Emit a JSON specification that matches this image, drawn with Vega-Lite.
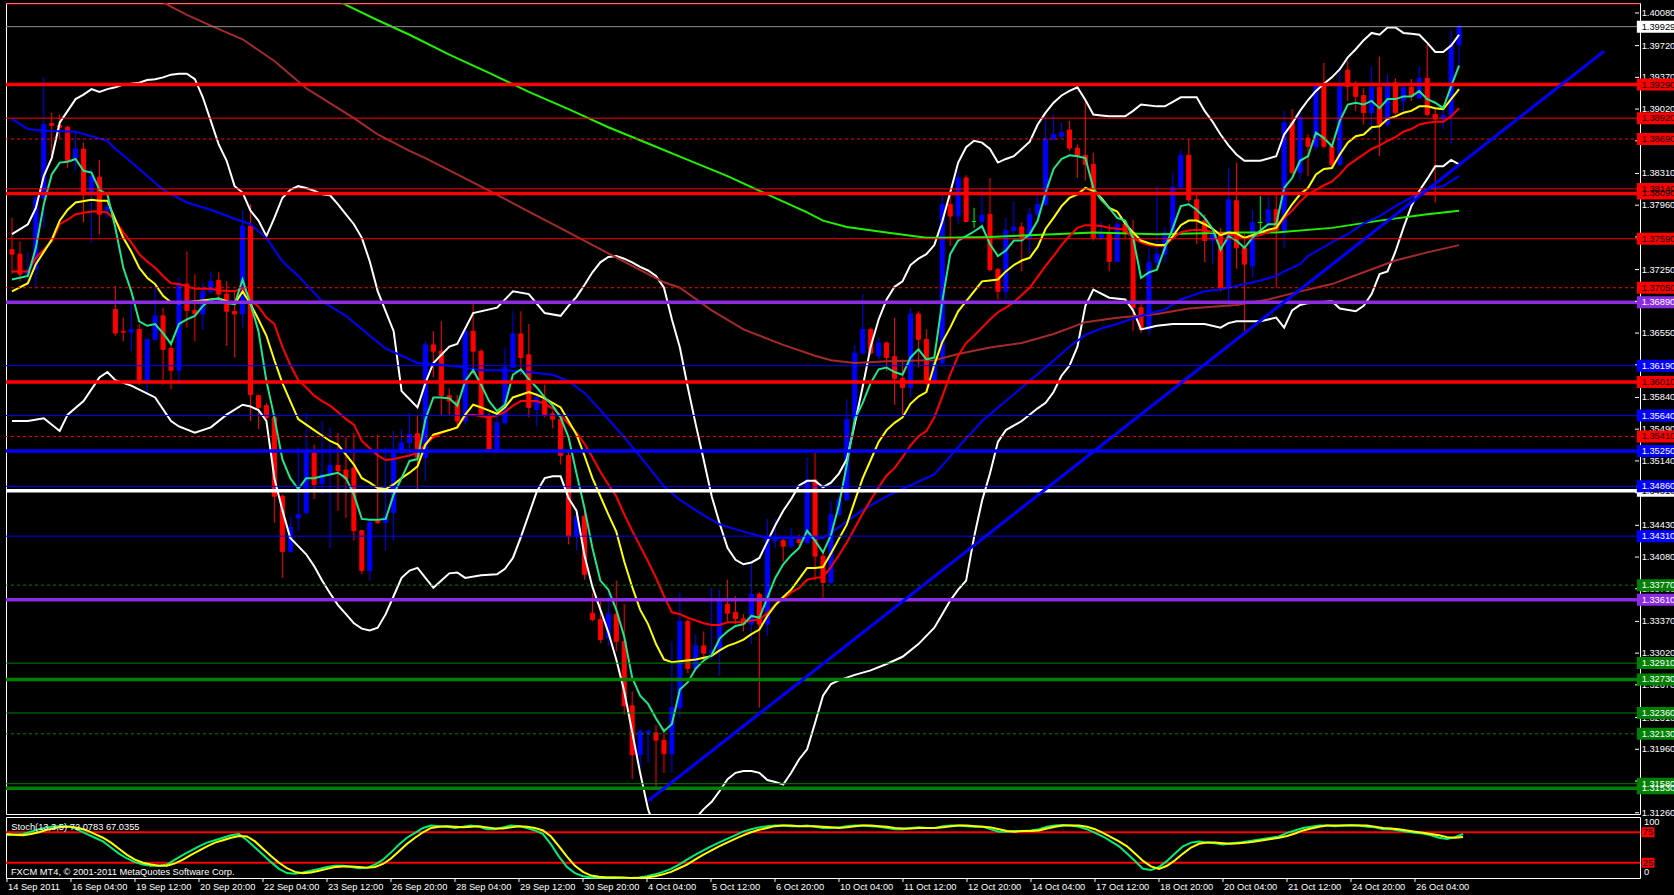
{
"$schema": "https://vega.github.io/schema/vega-lite/v6.json",
"background": "black",
"padding": {"left": 2, "top": 2, "right": 0, "bottom": 16},
"bounds": "flush",
"spacing": 3,
"config": {"view": {"stroke": "#ffffff", "strokeWidth": 1}},
"datasets": {
"c": [
{"i":0,"o":1.3747,"h":1.3782,"l":1.3720,"c":1.3742},{"i":1,"o":1.3742,"h":1.3756,"l":1.3712,"c":1.3720},{"i":2,"o":1.3720,"h":1.3744,"l":1.3705,"c":1.3725},{"i":3,"o":1.3725,"h":1.3806,"l":1.3705,"c":1.3804},{"i":4,"o":1.3804,"h":1.3937,"l":1.3771,"c":1.3885},{"i":5,"o":1.3886,"h":1.3898,"l":1.3845,"c":1.3884},{"i":6,"o":1.3884,"h":1.3896,"l":1.3869,"c":1.3882},{"i":7,"o":1.3882,"h":1.3884,"l":1.3837,"c":1.3845},{"i":8,"o":1.3848,"h":1.3876,"l":1.3834,"c":1.3858},{"i":9,"o":1.3858,"h":1.3865,"l":1.3777,"c":1.3810},
{"i":10,"o":1.3810,"h":1.3836,"l":1.3755,"c":1.3828},{"i":11,"o":1.3827,"h":1.3846,"l":1.3764,"c":1.3786},{"i":12,"o":1.3790,"h":1.3801,"l":1.3782,"c":1.3794},{"i":13,"o":1.3681,"h":1.3707,"l":1.3652,"c":1.3655},{"i":14,"o":1.3657,"h":1.3672,"l":1.3646,"c":1.3656},{"i":15,"o":1.3656,"h":1.3687,"l":1.3635,"c":1.3659},{"i":16,"o":1.3659,"h":1.3665,"l":1.3598,"c":1.3600},{"i":17,"o":1.3602,"h":1.3648,"l":1.3589,"c":1.3648},{"i":18,"o":1.3648,"h":1.3710,"l":1.3646,"c":1.3674},{"i":19,"o":1.3674,"h":1.3683,"l":1.3598,"c":1.3637},
{"i":20,"o":1.3638,"h":1.3646,"l":1.3593,"c":1.3614},{"i":21,"o":1.3614,"h":1.3716,"l":1.3598,"c":1.3709},{"i":22,"o":1.3709,"h":1.3745,"l":1.3661,"c":1.3680},{"i":23,"o":1.3680,"h":1.3720,"l":1.3646,"c":1.3676},{"i":24,"o":1.3676,"h":1.3710,"l":1.3659,"c":1.3701},{"i":25,"o":1.3701,"h":1.3723,"l":1.3698,"c":1.3712},{"i":26,"o":1.3713,"h":1.3722,"l":1.3687,"c":1.3698},{"i":27,"o":1.3698,"h":1.3712,"l":1.3641,"c":1.3679},{"i":28,"o":1.3679,"h":1.3701,"l":1.3628,"c":1.3676},{"i":29,"o":1.3676,"h":1.3790,"l":1.3661,"c":1.3773},
{"i":30,"o":1.3773,"h":1.3797,"l":1.3558,"c":1.3587},{"i":31,"o":1.3586,"h":1.3587,"l":1.3549,"c":1.3573},{"i":32,"o":1.3575,"h":1.3578,"l":1.3560,"c":1.3562},{"i":33,"o":1.3562,"h":1.3562,"l":1.3446,"c":1.3475},{"i":34,"o":1.3475,"h":1.3477,"l":1.3385,"c":1.3414},{"i":35,"o":1.3414,"h":1.3453,"l":1.3413,"c":1.3441},{"i":36,"o":1.3451,"h":1.3529,"l":1.3437,"c":1.3455},{"i":37,"o":1.3457,"h":1.3567,"l":1.3455,"c":1.3523},{"i":38,"o":1.3523,"h":1.3532,"l":1.3472,"c":1.3488},{"i":39,"o":1.3489,"h":1.3558,"l":1.3477,"c":1.3499},
{"i":40,"o":1.3499,"h":1.3551,"l":1.3418,"c":1.3509},{"i":41,"o":1.3509,"h":1.3545,"l":1.3459,"c":1.3503},{"i":42,"o":1.3504,"h":1.3540,"l":1.3451,"c":1.3494},{"i":43,"o":1.3506,"h":1.3545,"l":1.3426,"c":1.3437},{"i":44,"o":1.3437,"h":1.3438,"l":1.3389,"c":1.3393},{"i":45,"o":1.3393,"h":1.3450,"l":1.3382,"c":1.3446},{"i":46,"o":1.3448,"h":1.3543,"l":1.3444,"c":1.3446},{"i":47,"o":1.3446,"h":1.3529,"l":1.3415,"c":1.3453},{"i":48,"o":1.3457,"h":1.3547,"l":1.3426,"c":1.3523},{"i":49,"o":1.3523,"h":1.3549,"l":1.3522,"c":1.3534},
{"i":50,"o":1.3534,"h":1.3567,"l":1.3518,"c":1.3543},{"i":51,"o":1.3544,"h":1.3565,"l":1.3481,"c":1.3518},{"i":52,"o":1.3518,"h":1.3646,"l":1.3492,"c":1.3642},{"i":53,"o":1.3642,"h":1.3657,"l":1.3606,"c":1.3635},{"i":54,"o":1.3635,"h":1.3668,"l":1.3565,"c":1.3586},{"i":55,"o":1.3586,"h":1.3594,"l":1.3565,"c":1.3580},{"i":56,"o":1.3580,"h":1.3587,"l":1.3550,"c":1.3558},{"i":57,"o":1.3558,"h":1.3661,"l":1.3554,"c":1.3657},{"i":58,"o":1.3657,"h":1.3687,"l":1.3609,"c":1.3635},{"i":59,"o":1.3635,"h":1.3637,"l":1.3562,"c":1.3565},
{"i":60,"o":1.3563,"h":1.3567,"l":1.3525,"c":1.3527},{"i":61,"o":1.3527,"h":1.3569,"l":1.3523,"c":1.3556},{"i":62,"o":1.3556,"h":1.3639,"l":1.3554,"c":1.3617},{"i":63,"o":1.3617,"h":1.3679,"l":1.3617,"c":1.3654},{"i":64,"o":1.3654,"h":1.3679,"l":1.3609,"c":1.3628},{"i":65,"o":1.3631,"h":1.3665,"l":1.3562,"c":1.3573},{"i":66,"o":1.3571,"h":1.3591,"l":1.3552,"c":1.3584},{"i":67,"o":1.3582,"h":1.3598,"l":1.3562,"c":1.3565},{"i":68,"o":1.3566,"h":1.3569,"l":1.3550,"c":1.3560},{"i":69,"o":1.3560,"h":1.3562,"l":1.3510,"c":1.3520},
{"i":70,"o":1.3520,"h":1.3525,"l":1.3422,"c":1.3431},{"i":71,"o":1.3431,"h":1.3462,"l":1.3415,"c":1.3453},{"i":72,"o":1.3453,"h":1.3459,"l":1.3383,"c":1.3389},{"i":73,"o":1.3346,"h":1.3368,"l":1.3337,"c":1.3339},{"i":74,"o":1.3339,"h":1.3360,"l":1.3313,"c":1.3317},{"i":75,"o":1.3319,"h":1.3367,"l":1.3310,"c":1.3345},{"i":76,"o":1.3345,"h":1.3382,"l":1.3304,"c":1.3315},{"i":77,"o":1.3315,"h":1.3356,"l":1.3234,"c":1.3244},{"i":78,"o":1.3244,"h":1.3260,"l":1.3163,"c":1.3190},{"i":79,"o":1.3190,"h":1.3218,"l":1.3175,"c":1.3216},
{"i":80,"o":1.3214,"h":1.3217,"l":1.3181,"c":1.3216},{"i":81,"o":1.3214,"h":1.3223,"l":1.3151,"c":1.3206},{"i":82,"o":1.3206,"h":1.3220,"l":1.3170,"c":1.3191},{"i":83,"o":1.3191,"h":1.3315,"l":1.3170,"c":1.3242},{"i":84,"o":1.3242,"h":1.3369,"l":1.3231,"c":1.3337},{"i":85,"o":1.3337,"h":1.3339,"l":1.3280,"c":1.3285},{"i":86,"o":1.3285,"h":1.3323,"l":1.3282,"c":1.3310},{"i":87,"o":1.3310,"h":1.3326,"l":1.3293,"c":1.3302},{"i":88,"o":1.3302,"h":1.3374,"l":1.3295,"c":1.3305},{"i":89,"o":1.3305,"h":1.3372,"l":1.3277,"c":1.3360},
{"i":90,"o":1.3356,"h":1.3383,"l":1.3337,"c":1.3346},{"i":91,"o":1.3347,"h":1.3365,"l":1.3334,"c":1.3340},{"i":92,"o":1.3340,"h":1.3345,"l":1.3326,"c":1.3334},{"i":93,"o":1.3334,"h":1.3400,"l":1.3312,"c":1.3367},{"i":94,"o":1.3367,"h":1.3369,"l":1.3242,"c":1.3334},{"i":95,"o":1.3334,"h":1.3450,"l":1.3321,"c":1.3429},{"i":96,"o":1.3426,"h":1.3450,"l":1.3418,"c":1.3429},{"i":97,"o":1.3426,"h":1.3429,"l":1.3403,"c":1.3420},{"i":98,"o":1.3420,"h":1.3440,"l":1.3418,"c":1.3427},{"i":99,"o":1.3427,"h":1.3433,"l":1.3418,"c":1.3424},
{"i":100,"o":1.3424,"h":1.3518,"l":1.3422,"c":1.3493},{"i":101,"o":1.3493,"h":1.3523,"l":1.3382,"c":1.3409},{"i":102,"o":1.3409,"h":1.3415,"l":1.3363,"c":1.3380},{"i":103,"o":1.3380,"h":1.3470,"l":1.3378,"c":1.3455},{"i":104,"o":1.3455,"h":1.3477,"l":1.3453,"c":1.3471},{"i":105,"o":1.3471,"h":1.3582,"l":1.3470,"c":1.3560},{"i":106,"o":1.3560,"h":1.3642,"l":1.3558,"c":1.3633},{"i":107,"o":1.3633,"h":1.3698,"l":1.3631,"c":1.3659},{"i":108,"o":1.3659,"h":1.3661,"l":1.3631,"c":1.3633},{"i":109,"o":1.3630,"h":1.3650,"l":1.3626,"c":1.3644},
{"i":110,"o":1.3644,"h":1.3646,"l":1.3613,"c":1.3628},{"i":111,"o":1.3629,"h":1.3672,"l":1.3576,"c":1.3605},{"i":112,"o":1.3605,"h":1.3626,"l":1.3565,"c":1.3595},{"i":113,"o":1.3595,"h":1.3683,"l":1.3584,"c":1.3676},{"i":114,"o":1.3676,"h":1.3679,"l":1.3617,"c":1.3648},{"i":115,"o":1.3648,"h":1.3659,"l":1.3598,"c":1.3600},{"i":116,"o":1.3600,"h":1.3628,"l":1.3598,"c":1.3622},{"i":117,"o":1.3622,"h":1.3808,"l":1.3620,"c":1.3797},{"i":118,"o":1.3797,"h":1.3808,"l":1.3751,"c":1.3784},{"i":119,"o":1.3784,"h":1.3834,"l":1.3775,"c":1.3826},
{"i":120,"o":1.3826,"h":1.3829,"l":1.3777,"c":1.3778},{"i":121,"o":1.3778,"h":1.3793,"l":1.3771,"c":1.3778},{"i":122,"o":1.3778,"h":1.3815,"l":1.3768,"c":1.3785},{"i":123,"o":1.3786,"h":1.3826,"l":1.3723,"c":1.3725},{"i":124,"o":1.3725,"h":1.3727,"l":1.3692,"c":1.3701},{"i":125,"o":1.3701,"h":1.3782,"l":1.3692,"c":1.3768},{"i":126,"o":1.3768,"h":1.3800,"l":1.3760,"c":1.3772},{"i":127,"o":1.3772,"h":1.3777,"l":1.3723,"c":1.3760},{"i":128,"o":1.3760,"h":1.3793,"l":1.3742,"c":1.3786},{"i":129,"o":1.3786,"h":1.3808,"l":1.3779,"c":1.3797},
{"i":130,"o":1.3797,"h":1.3893,"l":1.3795,"c":1.3869},{"i":131,"o":1.3869,"h":1.3896,"l":1.3867,"c":1.3874},{"i":132,"o":1.3872,"h":1.3887,"l":1.3870,"c":1.3876},{"i":133,"o":1.3879,"h":1.3889,"l":1.3856,"c":1.3859},{"i":134,"o":1.3859,"h":1.3863,"l":1.3826,"c":1.3851},{"i":135,"o":1.3851,"h":1.3913,"l":1.3823,"c":1.3841},{"i":136,"o":1.3841,"h":1.3854,"l":1.3757,"c":1.3760},{"i":137,"o":1.3760,"h":1.3778,"l":1.3757,"c":1.3766},{"i":138,"o":1.3766,"h":1.3775,"l":1.3723,"c":1.3734},{"i":139,"o":1.3734,"h":1.3778,"l":1.3733,"c":1.3775},
{"i":140,"o":1.3775,"h":1.3778,"l":1.3760,"c":1.3766},{"i":141,"o":1.3766,"h":1.3780,"l":1.3657,"c":1.3683},{"i":142,"o":1.3683,"h":1.3687,"l":1.3655,"c":1.3659},{"i":143,"o":1.3659,"h":1.3749,"l":1.3652,"c":1.3733},{"i":144,"o":1.3733,"h":1.3817,"l":1.3727,"c":1.3742},{"i":145,"o":1.3742,"h":1.3771,"l":1.3733,"c":1.3766},{"i":146,"o":1.3766,"h":1.3832,"l":1.3764,"c":1.3816},{"i":147,"o":1.3816,"h":1.3857,"l":1.3815,"c":1.3851},{"i":148,"o":1.3851,"h":1.3869,"l":1.3799,"c":1.3802},{"i":149,"o":1.3802,"h":1.3810,"l":1.3753,"c":1.3779},
{"i":150,"o":1.3779,"h":1.3786,"l":1.3733,"c":1.3757},{"i":151,"o":1.3757,"h":1.3771,"l":1.3731,"c":1.3766},{"i":152,"o":1.3766,"h":1.3771,"l":1.3701,"c":1.3705},{"i":153,"o":1.3705,"h":1.3837,"l":1.3683,"c":1.3802},{"i":154,"o":1.3801,"h":1.3843,"l":1.3726,"c":1.3749},{"i":155,"o":1.3749,"h":1.3764,"l":1.3657,"c":1.3731},{"i":156,"o":1.3729,"h":1.3791,"l":1.3716,"c":1.3777},{"i":157,"o":1.3777,"h":1.3806,"l":1.3764,"c":1.3777},{"i":158,"o":1.3777,"h":1.3806,"l":1.3768,"c":1.3791},{"i":159,"o":1.3791,"h":1.3808,"l":1.3705,"c":1.3768},
{"i":160,"o":1.3768,"h":1.3900,"l":1.3749,"c":1.3887},{"i":161,"o":1.3887,"h":1.3902,"l":1.3830,"c":1.3832},{"i":162,"o":1.3832,"h":1.3902,"l":1.3823,"c":1.3893},{"i":163,"o":1.3870,"h":1.3874,"l":1.3828,"c":1.3861},{"i":164,"o":1.3861,"h":1.3929,"l":1.3856,"c":1.3927},{"i":165,"o":1.3927,"h":1.3953,"l":1.3859,"c":1.3861},{"i":166,"o":1.3861,"h":1.3863,"l":1.3837,"c":1.3841},{"i":167,"o":1.3841,"h":1.3949,"l":1.3839,"c":1.3929},{"i":168,"o":1.3945,"h":1.3955,"l":1.3911,"c":1.3927},{"i":169,"o":1.3927,"h":1.3933,"l":1.3900,"c":1.3916},
{"i":170,"o":1.3917,"h":1.3925,"l":1.3885,"c":1.3898},{"i":171,"o":1.3898,"h":1.3949,"l":1.3876,"c":1.3926},{"i":172,"o":1.3926,"h":1.3960,"l":1.3850,"c":1.3885},{"i":173,"o":1.3885,"h":1.3940,"l":1.3883,"c":1.3931},{"i":174,"o":1.3931,"h":1.3936,"l":1.3896,"c":1.3898},{"i":175,"o":1.3911,"h":1.3927,"l":1.3900,"c":1.3926},{"i":176,"o":1.3926,"h":1.3935,"l":1.3911,"c":1.3916},{"i":177,"o":1.3914,"h":1.3949,"l":1.3913,"c":1.3936},{"i":178,"o":1.3936,"h":1.3973,"l":1.3894,"c":1.3896},{"i":179,"o":1.3896,"h":1.3903,"l":1.3799,"c":1.3891},
{"i":180,"o":1.3891,"h":1.3905,"l":1.3880,"c":1.3895},{"i":181,"o":1.3895,"h":1.3989,"l":1.3863,"c":1.3973},{"i":182,"o":1.3973,"h":1.3995,"l":1.3948,"c":1.3993}
],
"bbu": [{"i":0,"v":1.3764},{"i":2,"v":1.3775},{"i":3,"v":1.3793},{"i":4,"v":1.3828},{"i":5,"v":1.3848},{"i":6,"v":1.3887},{"i":7,"v":1.3900},{"i":8,"v":1.3913},{"i":9,"v":1.3918},{"i":10,"v":1.3924},{"i":11,"v":1.3921},{"i":12,"v":1.3924},{"i":13,"v":1.3926},{"i":14,"v":1.3929},{"i":15,"v":1.3930},{"i":16,"v":1.3931},{"i":17,"v":1.3934},{"i":18,"v":1.3935},{"i":19,"v":1.3937},{"i":20,"v":1.3940},{"i":21,"v":1.3941},{"i":22,"v":1.3941},{"i":23,"v":1.3935},{"i":24,"v":1.3915},{"i":25,"v":1.3889},{"i":26,"v":1.3863},{"i":27,"v":1.3845},{"i":28,"v":1.3817},{"i":29,"v":1.3810},{"i":30,"v":1.3790},{"i":31,"v":1.3779},{"i":32,"v":1.3762},{"i":33,"v":1.3782},{"i":34,"v":1.3804},{"i":35,"v":1.3813},{"i":36,"v":1.3817},{"i":37,"v":1.3815},{"i":38,"v":1.3812},{"i":39,"v":1.3808},{"i":40,"v":1.3807},{"i":41,"v":1.3797},{"i":42,"v":1.3786},{"i":43,"v":1.3775},{"i":44,"v":1.3760},{"i":45,"v":1.3734},{"i":46,"v":1.3701},{"i":47,"v":1.3679},{"i":48,"v":1.3657},{"i":49,"v":1.3591},{"i":50,"v":1.3582},{"i":51,"v":1.3573},{"i":52,"v":1.3600},{"i":53,"v":1.3622},{"i":55,"v":1.3640},{"i":56,"v":1.3643},{"i":58,"v":1.3677},{"i":61,"v":1.3683},{"i":63,"v":1.3701},{"i":65,"v":1.3698},{"i":67,"v":1.3677},{"i":69,"v":1.3674},{"i":70,"v":1.3685},{"i":71,"v":1.3695},{"i":72,"v":1.3708},{"i":73,"v":1.3722},{"i":74,"v":1.3733},{"i":75,"v":1.3739},{"i":76,"v":1.3740},{"i":77,"v":1.3737},{"i":78,"v":1.3733},{"i":79,"v":1.3728},{"i":80,"v":1.3724},{"i":81,"v":1.3718},{"i":82,"v":1.3705},{"i":83,"v":1.3670},{"i":84,"v":1.3639},{"i":85,"v":1.3595},{"i":86,"v":1.3554},{"i":87,"v":1.3515},{"i":88,"v":1.3475},{"i":89,"v":1.3445},{"i":90,"v":1.3418},{"i":91,"v":1.3405},{"i":92,"v":1.3400},{"i":93,"v":1.3402},{"i":94,"v":1.3407},{"i":95,"v":1.3425},{"i":96,"v":1.3443},{"i":97,"v":1.3459},{"i":98,"v":1.3472},{"i":99,"v":1.3487},{"i":100,"v":1.3492},{"i":101,"v":1.3492},{"i":102,"v":1.3485},{"i":103,"v":1.3490},{"i":104,"v":1.3500},{"i":105,"v":1.3516},{"i":106,"v":1.3555},{"i":107,"v":1.3596},{"i":108,"v":1.3640},{"i":109,"v":1.3670},{"i":110,"v":1.3692},{"i":111,"v":1.3706},{"i":112,"v":1.3712},{"i":113,"v":1.3730},{"i":114,"v":1.3737},{"i":115,"v":1.3742},{"i":116,"v":1.3752},{"i":117,"v":1.3778},{"i":118,"v":1.3810},{"i":119,"v":1.3843},{"i":120,"v":1.3860},{"i":121,"v":1.3867},{"i":122,"v":1.3865},{"i":123,"v":1.3858},{"i":124,"v":1.3843},{"i":125,"v":1.3847},{"i":126,"v":1.3850},{"i":127,"v":1.3858},{"i":128,"v":1.3866},{"i":129,"v":1.3885},{"i":130,"v":1.3898},{"i":131,"v":1.3909},{"i":132,"v":1.3917},{"i":133,"v":1.3922},{"i":134,"v":1.3926},{"i":135,"v":1.3912},{"i":136,"v":1.3896},{"i":137,"v":1.3895},{"i":138,"v":1.3894},{"i":140,"v":1.3894},{"i":141,"v":1.3900},{"i":142,"v":1.3907},{"i":144,"v":1.3905},{"i":145,"v":1.3905},{"i":146,"v":1.3910},{"i":147,"v":1.3915},{"i":149,"v":1.3915},{"i":150,"v":1.3900},{"i":151,"v":1.3888},{"i":152,"v":1.3874},{"i":153,"v":1.3862},{"i":154,"v":1.3852},{"i":155,"v":1.3845},{"i":157,"v":1.3845},{"i":159,"v":1.3850},{"i":160,"v":1.3874},{"i":161,"v":1.3886},{"i":162,"v":1.3900},{"i":163,"v":1.3912},{"i":164,"v":1.3922},{"i":165,"v":1.3930},{"i":166,"v":1.3937},{"i":167,"v":1.3946},{"i":168,"v":1.3959},{"i":169,"v":1.3968},{"i":170,"v":1.3978},{"i":171,"v":1.3986},{"i":172,"v":1.3984},{"i":173,"v":1.3992},{"i":174,"v":1.3992},{"i":175,"v":1.3986},{"i":176,"v":1.3985},{"i":177,"v":1.3984},{"i":178,"v":1.3975},{"i":179,"v":1.3965},{"i":180,"v":1.3965},{"i":181,"v":1.3972},{"i":182,"v":1.3984}],
"bbl": [{"i":0,"v":1.3558},{"i":2,"v":1.3558},{"i":4,"v":1.3561},{"i":6,"v":1.3547},{"i":7,"v":1.3565},{"i":9,"v":1.3580},{"i":11,"v":1.3606},{"i":12,"v":1.3612},{"i":13,"v":1.3603},{"i":15,"v":1.3597},{"i":18,"v":1.3584},{"i":20,"v":1.3558},{"i":21,"v":1.3552},{"i":23,"v":1.3545},{"i":25,"v":1.3551},{"i":27,"v":1.3565},{"i":29,"v":1.3576},{"i":30,"v":1.3574},{"i":31,"v":1.3570},{"i":32,"v":1.3558},{"i":33,"v":1.3495},{"i":34,"v":1.3460},{"i":35,"v":1.3429},{"i":36,"v":1.3420},{"i":37,"v":1.3411},{"i":38,"v":1.3398},{"i":39,"v":1.3382},{"i":40,"v":1.3368},{"i":41,"v":1.3355},{"i":42,"v":1.3345},{"i":43,"v":1.3335},{"i":44,"v":1.3329},{"i":45,"v":1.3327},{"i":46,"v":1.3330},{"i":47,"v":1.3345},{"i":48,"v":1.3365},{"i":49,"v":1.3385},{"i":50,"v":1.3393},{"i":51,"v":1.3396},{"i":52,"v":1.3385},{"i":53,"v":1.3374},{"i":54,"v":1.3382},{"i":55,"v":1.3390},{"i":56,"v":1.3391},{"i":57,"v":1.3385},{"i":59,"v":1.3388},{"i":61,"v":1.3389},{"i":62,"v":1.3395},{"i":63,"v":1.3407},{"i":64,"v":1.3430},{"i":65,"v":1.3455},{"i":66,"v":1.3480},{"i":67,"v":1.3495},{"i":68,"v":1.3497},{"i":69,"v":1.3497},{"i":70,"v":1.3473},{"i":71,"v":1.3459},{"i":72,"v":1.3410},{"i":73,"v":1.3375},{"i":74,"v":1.3350},{"i":75,"v":1.3325},{"i":76,"v":1.3295},{"i":77,"v":1.3260},{"i":78,"v":1.3215},{"i":79,"v":1.3170},{"i":80,"v":1.3130},{"i":81,"v":1.3105},{"i":82,"v":1.3090},{"i":83,"v":1.3085},{"i":84,"v":1.3090},{"i":85,"v":1.3105},{"i":86,"v":1.3120},{"i":87,"v":1.3130},{"i":88,"v":1.3138},{"i":89,"v":1.3150},{"i":90,"v":1.3163},{"i":91,"v":1.3170},{"i":92,"v":1.3172},{"i":93,"v":1.3172},{"i":94,"v":1.3170},{"i":95,"v":1.3162},{"i":96,"v":1.3160},{"i":97,"v":1.3157},{"i":98,"v":1.3170},{"i":99,"v":1.3185},{"i":100,"v":1.3196},{"i":101,"v":1.3225},{"i":102,"v":1.3255},{"i":103,"v":1.3268},{"i":104,"v":1.3272},{"i":106,"v":1.3278},{"i":108,"v":1.3283},{"i":110,"v":1.3290},{"i":112,"v":1.3298},{"i":114,"v":1.3312},{"i":116,"v":1.3330},{"i":117,"v":1.3345},{"i":118,"v":1.3360},{"i":119,"v":1.3372},{"i":120,"v":1.3382},{"i":121,"v":1.3430},{"i":122,"v":1.3470},{"i":123,"v":1.3500},{"i":124,"v":1.3535},{"i":125,"v":1.3548},{"i":127,"v":1.3558},{"i":129,"v":1.3572},{"i":130,"v":1.3578},{"i":131,"v":1.3590},{"i":132,"v":1.3608},{"i":133,"v":1.3619},{"i":134,"v":1.3640},{"i":135,"v":1.3685},{"i":136,"v":1.3703},{"i":138,"v":1.3694},{"i":140,"v":1.3692},{"i":141,"v":1.3680},{"i":142,"v":1.3659},{"i":144,"v":1.3663},{"i":146,"v":1.3665},{"i":150,"v":1.3665},{"i":152,"v":1.3661},{"i":153,"v":1.3666},{"i":154,"v":1.3668},{"i":157,"v":1.3668},{"i":159,"v":1.3672},{"i":160,"v":1.3661},{"i":161,"v":1.3680},{"i":162,"v":1.3686},{"i":163,"v":1.3688},{"i":166,"v":1.3690},{"i":167,"v":1.3682},{"i":169,"v":1.3679},{"i":170,"v":1.3685},{"i":171,"v":1.3698},{"i":172,"v":1.3720},{"i":173,"v":1.3723},{"i":174,"v":1.3745},{"i":175,"v":1.3771},{"i":176,"v":1.3795},{"i":177,"v":1.3812},{"i":178,"v":1.3825},{"i":179,"v":1.3839},{"i":180,"v":1.3839},{"i":181,"v":1.3846},{"i":182,"v":1.3841}],
"m1": [{"i":0,"v":1.3714},{"i":2,"v":1.3718},{"i":3,"v":1.3749},{"i":4,"v":1.3797},{"i":5,"v":1.3830},{"i":6,"v":1.3843},{"i":7,"v":1.3844},{"i":8,"v":1.3847},{"i":9,"v":1.3834},{"i":10,"v":1.3832},{"i":11,"v":1.3813},{"i":12,"v":1.3808},{"i":13,"v":1.3771},{"i":14,"v":1.3727},{"i":15,"v":1.3701},{"i":16,"v":1.3668},{"i":17,"v":1.3663},{"i":18,"v":1.3665},{"i":19,"v":1.3655},{"i":20,"v":1.3643},{"i":21,"v":1.3665},{"i":22,"v":1.3670},{"i":23,"v":1.3674},{"i":24,"v":1.3685},{"i":25,"v":1.3692},{"i":26,"v":1.3693},{"i":27,"v":1.3688},{"i":28,"v":1.3687},{"i":29,"v":1.3714},{"i":30,"v":1.3687},{"i":31,"v":1.3657},{"i":32,"v":1.3602},{"i":33,"v":1.3562},{"i":34,"v":1.3516},{"i":35,"v":1.3495},{"i":36,"v":1.3483},{"i":37,"v":1.3495},{"i":38,"v":1.3495},{"i":39,"v":1.3497},{"i":40,"v":1.3499},{"i":41,"v":1.3501},{"i":42,"v":1.3495},{"i":43,"v":1.3477},{"i":44,"v":1.3450},{"i":45,"v":1.3449},{"i":46,"v":1.3449},{"i":47,"v":1.3450},{"i":48,"v":1.3477},{"i":49,"v":1.3495},{"i":50,"v":1.3514},{"i":51,"v":1.3516},{"i":52,"v":1.3560},{"i":53,"v":1.3584},{"i":54,"v":1.3584},{"i":55,"v":1.3583},{"i":56,"v":1.3575},{"i":57,"v":1.3602},{"i":58,"v":1.3614},{"i":59,"v":1.3598},{"i":60,"v":1.3580},{"i":61,"v":1.3569},{"i":62,"v":1.3576},{"i":63,"v":1.3609},{"i":64,"v":1.3615},{"i":65,"v":1.3604},{"i":66,"v":1.3595},{"i":67,"v":1.3584},{"i":68,"v":1.3575},{"i":69,"v":1.3562},{"i":70,"v":1.3540},{"i":71,"v":1.3500},{"i":72,"v":1.3462},{"i":73,"v":1.3418},{"i":74,"v":1.3382},{"i":75,"v":1.3372},{"i":76,"v":1.3350},{"i":77,"v":1.3320},{"i":78,"v":1.3275},{"i":79,"v":1.3255},{"i":80,"v":1.3246},{"i":81,"v":1.3230},{"i":82,"v":1.3216},{"i":83,"v":1.3224},{"i":84,"v":1.3262},{"i":85,"v":1.3270},{"i":86,"v":1.3285},{"i":87,"v":1.3294},{"i":88,"v":1.3300},{"i":89,"v":1.3318},{"i":90,"v":1.3326},{"i":91,"v":1.3332},{"i":92,"v":1.3334},{"i":93,"v":1.3343},{"i":94,"v":1.3341},{"i":95,"v":1.3363},{"i":96,"v":1.3385},{"i":97,"v":1.3400},{"i":98,"v":1.3410},{"i":99,"v":1.3418},{"i":100,"v":1.3437},{"i":101,"v":1.3426},{"i":102,"v":1.3413},{"i":103,"v":1.3432},{"i":104,"v":1.3465},{"i":105,"v":1.3510},{"i":106,"v":1.3560},{"i":107,"v":1.3578},{"i":108,"v":1.3600},{"i":109,"v":1.3615},{"i":110,"v":1.3617},{"i":111,"v":1.3612},{"i":112,"v":1.3609},{"i":113,"v":1.3628},{"i":114,"v":1.3637},{"i":115,"v":1.3626},{"i":116,"v":1.3628},{"i":117,"v":1.3690},{"i":118,"v":1.3742},{"i":119,"v":1.3757},{"i":120,"v":1.3762},{"i":121,"v":1.3767},{"i":122,"v":1.3773},{"i":123,"v":1.3753},{"i":124,"v":1.3740},{"i":125,"v":1.3746},{"i":126,"v":1.3757},{"i":127,"v":1.3757},{"i":128,"v":1.3764},{"i":129,"v":1.3779},{"i":130,"v":1.3810},{"i":131,"v":1.3836},{"i":132,"v":1.3847},{"i":133,"v":1.3851},{"i":134,"v":1.3850},{"i":135,"v":1.3848},{"i":136,"v":1.3815},{"i":137,"v":1.3802},{"i":138,"v":1.3793},{"i":139,"v":1.3782},{"i":140,"v":1.3779},{"i":141,"v":1.3760},{"i":142,"v":1.3716},{"i":143,"v":1.3722},{"i":144,"v":1.3725},{"i":145,"v":1.3749},{"i":146,"v":1.3771},{"i":147,"v":1.3795},{"i":148,"v":1.3797},{"i":149,"v":1.3791},{"i":150,"v":1.3782},{"i":151,"v":1.3770},{"i":152,"v":1.3747},{"i":153,"v":1.3762},{"i":154,"v":1.3757},{"i":155,"v":1.3749},{"i":156,"v":1.3760},{"i":157,"v":1.3768},{"i":158,"v":1.3775},{"i":159,"v":1.3775},{"i":160,"v":1.3815},{"i":161,"v":1.3826},{"i":162,"v":1.3845},{"i":163,"v":1.3850},{"i":164,"v":1.3876},{"i":165,"v":1.3870},{"i":166,"v":1.3861},{"i":167,"v":1.3889},{"i":168,"v":1.3907},{"i":169,"v":1.3909},{"i":170,"v":1.3907},{"i":171,"v":1.3911},{"i":172,"v":1.3903},{"i":173,"v":1.3913},{"i":174,"v":1.3913},{"i":175,"v":1.3916},{"i":176,"v":1.3916},{"i":177,"v":1.3922},{"i":178,"v":1.3913},{"i":179,"v":1.3909},{"i":180,"v":1.3903},{"i":181,"v":1.3927},{"i":182,"v":1.3950}],
"m2": [{"i":0,"v":1.3701},{"i":2,"v":1.3710},{"i":3,"v":1.3731},{"i":5,"v":1.3758},{"i":6,"v":1.3779},{"i":7,"v":1.3791},{"i":8,"v":1.3799},{"i":10,"v":1.3802},{"i":11,"v":1.3801},{"i":12,"v":1.3801},{"i":13,"v":1.3780},{"i":14,"v":1.3760},{"i":15,"v":1.3745},{"i":16,"v":1.3727},{"i":17,"v":1.3716},{"i":18,"v":1.3709},{"i":19,"v":1.3696},{"i":20,"v":1.3689},{"i":21,"v":1.3688},{"i":23,"v":1.3690},{"i":25,"v":1.3692},{"i":26,"v":1.3693},{"i":28,"v":1.3687},{"i":29,"v":1.3701},{"i":30,"v":1.3687},{"i":31,"v":1.3670},{"i":32,"v":1.3652},{"i":33,"v":1.3625},{"i":34,"v":1.3600},{"i":35,"v":1.3580},{"i":36,"v":1.3560},{"i":37,"v":1.3554},{"i":38,"v":1.3548},{"i":39,"v":1.3542},{"i":40,"v":1.3536},{"i":41,"v":1.3532},{"i":42,"v":1.3521},{"i":43,"v":1.3510},{"i":44,"v":1.3495},{"i":45,"v":1.3490},{"i":46,"v":1.3484},{"i":47,"v":1.3483},{"i":48,"v":1.3488},{"i":49,"v":1.3495},{"i":50,"v":1.3501},{"i":51,"v":1.3508},{"i":52,"v":1.3532},{"i":53,"v":1.3543},{"i":55,"v":1.3548},{"i":56,"v":1.3551},{"i":57,"v":1.3565},{"i":58,"v":1.3576},{"i":59,"v":1.3573},{"i":61,"v":1.3566},{"i":62,"v":1.3573},{"i":63,"v":1.3584},{"i":65,"v":1.3590},{"i":66,"v":1.3587},{"i":67,"v":1.3583},{"i":69,"v":1.3573},{"i":70,"v":1.3558},{"i":71,"v":1.3543},{"i":72,"v":1.3520},{"i":73,"v":1.3495},{"i":74,"v":1.3475},{"i":75,"v":1.3455},{"i":76,"v":1.3436},{"i":77,"v":1.3403},{"i":78,"v":1.3375},{"i":79,"v":1.3350},{"i":80,"v":1.3334},{"i":81,"v":1.3312},{"i":82,"v":1.3295},{"i":83,"v":1.3292},{"i":84,"v":1.3293},{"i":86,"v":1.3295},{"i":87,"v":1.3297},{"i":88,"v":1.3299},{"i":89,"v":1.3305},{"i":90,"v":1.3310},{"i":91,"v":1.3313},{"i":92,"v":1.3317},{"i":93,"v":1.3323},{"i":94,"v":1.3328},{"i":95,"v":1.3343},{"i":96,"v":1.3355},{"i":97,"v":1.3364},{"i":98,"v":1.3372},{"i":99,"v":1.3384},{"i":100,"v":1.3396},{"i":101,"v":1.3396},{"i":102,"v":1.3397},{"i":103,"v":1.3412},{"i":104,"v":1.3428},{"i":105,"v":1.3444},{"i":106,"v":1.3470},{"i":107,"v":1.3495},{"i":108,"v":1.3515},{"i":109,"v":1.3535},{"i":110,"v":1.3548},{"i":111,"v":1.3556},{"i":112,"v":1.3562},{"i":113,"v":1.3577},{"i":114,"v":1.3585},{"i":115,"v":1.3590},{"i":116,"v":1.3620},{"i":117,"v":1.3645},{"i":118,"v":1.3661},{"i":119,"v":1.3679},{"i":120,"v":1.3690},{"i":121,"v":1.3701},{"i":122,"v":1.3712},{"i":123,"v":1.3713},{"i":124,"v":1.3714},{"i":125,"v":1.3723},{"i":126,"v":1.3730},{"i":127,"v":1.3735},{"i":128,"v":1.3738},{"i":129,"v":1.3750},{"i":130,"v":1.3770},{"i":131,"v":1.3782},{"i":132,"v":1.3795},{"i":133,"v":1.3804},{"i":134,"v":1.3808},{"i":135,"v":1.3815},{"i":136,"v":1.3812},{"i":137,"v":1.3804},{"i":138,"v":1.3793},{"i":139,"v":1.3789},{"i":140,"v":1.3776},{"i":141,"v":1.3766},{"i":142,"v":1.3757},{"i":143,"v":1.3754},{"i":144,"v":1.3752},{"i":145,"v":1.3752},{"i":146,"v":1.3762},{"i":147,"v":1.3774},{"i":148,"v":1.3779},{"i":149,"v":1.3779},{"i":150,"v":1.3775},{"i":151,"v":1.3770},{"i":152,"v":1.3763},{"i":153,"v":1.3766},{"i":154,"v":1.3765},{"i":155,"v":1.3760},{"i":156,"v":1.3763},{"i":157,"v":1.3766},{"i":158,"v":1.3769},{"i":159,"v":1.3771},{"i":160,"v":1.3784},{"i":161,"v":1.3797},{"i":162,"v":1.3808},{"i":163,"v":1.3815},{"i":164,"v":1.3830},{"i":165,"v":1.3836},{"i":166,"v":1.3837},{"i":167,"v":1.3852},{"i":168,"v":1.3865},{"i":169,"v":1.3872},{"i":170,"v":1.3874},{"i":171,"v":1.3882},{"i":172,"v":1.3883},{"i":173,"v":1.3891},{"i":174,"v":1.3894},{"i":175,"v":1.3898},{"i":176,"v":1.3900},{"i":177,"v":1.3905},{"i":178,"v":1.3905},{"i":179,"v":1.3903},{"i":180,"v":1.3902},{"i":181,"v":1.3913},{"i":182,"v":1.3924}],
"m3": [{"i":0,"v":1.3723},{"i":2,"v":1.3723},{"i":3,"v":1.3738},{"i":5,"v":1.3756},{"i":6,"v":1.3775},{"i":7,"v":1.3780},{"i":8,"v":1.3786},{"i":10,"v":1.3789},{"i":11,"v":1.3789},{"i":12,"v":1.3788},{"i":13,"v":1.3779},{"i":14,"v":1.3766},{"i":15,"v":1.3755},{"i":16,"v":1.3742},{"i":17,"v":1.3734},{"i":18,"v":1.3727},{"i":19,"v":1.3718},{"i":20,"v":1.3710},{"i":21,"v":1.3709},{"i":23,"v":1.3704},{"i":25,"v":1.3704},{"i":26,"v":1.3702},{"i":28,"v":1.3701},{"i":29,"v":1.3705},{"i":30,"v":1.3692},{"i":31,"v":1.3684},{"i":32,"v":1.3672},{"i":33,"v":1.3665},{"i":34,"v":1.3640},{"i":35,"v":1.3620},{"i":36,"v":1.3603},{"i":37,"v":1.3595},{"i":38,"v":1.3586},{"i":39,"v":1.3580},{"i":40,"v":1.3575},{"i":41,"v":1.3568},{"i":42,"v":1.3560},{"i":43,"v":1.3554},{"i":44,"v":1.3536},{"i":45,"v":1.3528},{"i":46,"v":1.3520},{"i":47,"v":1.3515},{"i":48,"v":1.3516},{"i":49,"v":1.3518},{"i":50,"v":1.3520},{"i":51,"v":1.3523},{"i":52,"v":1.3532},{"i":53,"v":1.3540},{"i":54,"v":1.3545},{"i":55,"v":1.3548},{"i":56,"v":1.3551},{"i":57,"v":1.3564},{"i":58,"v":1.3565},{"i":60,"v":1.3562},{"i":61,"v":1.3564},{"i":62,"v":1.3568},{"i":63,"v":1.3575},{"i":64,"v":1.3580},{"i":66,"v":1.3580},{"i":67,"v":1.3577},{"i":68,"v":1.3572},{"i":69,"v":1.3564},{"i":70,"v":1.3555},{"i":71,"v":1.3545},{"i":72,"v":1.3533},{"i":73,"v":1.3518},{"i":74,"v":1.3502},{"i":75,"v":1.3488},{"i":76,"v":1.3475},{"i":77,"v":1.3455},{"i":78,"v":1.3437},{"i":79,"v":1.3420},{"i":80,"v":1.3403},{"i":81,"v":1.3385},{"i":82,"v":1.3365},{"i":83,"v":1.3347},{"i":84,"v":1.3345},{"i":85,"v":1.3341},{"i":86,"v":1.3338},{"i":87,"v":1.3335},{"i":88,"v":1.3333},{"i":89,"v":1.3333},{"i":90,"v":1.3336},{"i":92,"v":1.3336},{"i":93,"v":1.3338},{"i":94,"v":1.3339},{"i":95,"v":1.3346},{"i":96,"v":1.3355},{"i":97,"v":1.3362},{"i":98,"v":1.3369},{"i":99,"v":1.3374},{"i":100,"v":1.3383},{"i":101,"v":1.3385},{"i":102,"v":1.3386},{"i":103,"v":1.3397},{"i":104,"v":1.3410},{"i":105,"v":1.3424},{"i":106,"v":1.3440},{"i":107,"v":1.3456},{"i":108,"v":1.3471},{"i":109,"v":1.3485},{"i":110,"v":1.3498},{"i":111,"v":1.3506},{"i":112,"v":1.3518},{"i":113,"v":1.3531},{"i":114,"v":1.3541},{"i":115,"v":1.3547},{"i":116,"v":1.3562},{"i":117,"v":1.3585},{"i":118,"v":1.3609},{"i":119,"v":1.3630},{"i":120,"v":1.3644},{"i":121,"v":1.3652},{"i":122,"v":1.3661},{"i":123,"v":1.3670},{"i":124,"v":1.3678},{"i":125,"v":1.3683},{"i":126,"v":1.3689},{"i":127,"v":1.3697},{"i":128,"v":1.3705},{"i":129,"v":1.3717},{"i":130,"v":1.3729},{"i":131,"v":1.3740},{"i":132,"v":1.3752},{"i":133,"v":1.3762},{"i":134,"v":1.3771},{"i":135,"v":1.3774},{"i":136,"v":1.3774},{"i":137,"v":1.3773},{"i":138,"v":1.3771},{"i":139,"v":1.3770},{"i":140,"v":1.3769},{"i":141,"v":1.3760},{"i":142,"v":1.3755},{"i":143,"v":1.3752},{"i":144,"v":1.3751},{"i":145,"v":1.3751},{"i":146,"v":1.3760},{"i":147,"v":1.3766},{"i":148,"v":1.3768},{"i":149,"v":1.3769},{"i":150,"v":1.3768},{"i":152,"v":1.3765},{"i":153,"v":1.3764},{"i":155,"v":1.3760},{"i":157,"v":1.3763},{"i":158,"v":1.3766},{"i":159,"v":1.3770},{"i":160,"v":1.3782},{"i":161,"v":1.3790},{"i":162,"v":1.3800},{"i":163,"v":1.3808},{"i":164,"v":1.3813},{"i":165,"v":1.3818},{"i":166,"v":1.3822},{"i":167,"v":1.3830},{"i":168,"v":1.3840},{"i":169,"v":1.3846},{"i":170,"v":1.3852},{"i":171,"v":1.3858},{"i":172,"v":1.3862},{"i":173,"v":1.3867},{"i":174,"v":1.3871},{"i":175,"v":1.3877},{"i":176,"v":1.3880},{"i":177,"v":1.3885},{"i":178,"v":1.3887},{"i":179,"v":1.3888},{"i":180,"v":1.3888},{"i":181,"v":1.3894},{"i":182,"v":1.3903}],
"m4": [{"i":0,"v":1.3891},{"i":2,"v":1.3880},{"i":4,"v":1.3878},{"i":8,"v":1.3877},{"i":10,"v":1.3872},{"i":12,"v":1.3867},{"i":13,"v":1.3858},{"i":14,"v":1.3851},{"i":16,"v":1.3836},{"i":19,"v":1.3813},{"i":22,"v":1.3799},{"i":25,"v":1.3791},{"i":28,"v":1.3781},{"i":30,"v":1.3775},{"i":32,"v":1.3760},{"i":34,"v":1.3734},{"i":36,"v":1.3718},{"i":39,"v":1.3690},{"i":42,"v":1.3674},{"i":45,"v":1.3652},{"i":47,"v":1.3638},{"i":49,"v":1.3630},{"i":51,"v":1.3622},{"i":53,"v":1.3621},{"i":56,"v":1.3618},{"i":59,"v":1.3614},{"i":62,"v":1.3614},{"i":65,"v":1.3612},{"i":68,"v":1.3609},{"i":70,"v":1.3602},{"i":72,"v":1.3589},{"i":74,"v":1.3570},{"i":77,"v":1.3540},{"i":79,"v":1.3519},{"i":82,"v":1.3486},{"i":84,"v":1.3471},{"i":87,"v":1.3454},{"i":89,"v":1.3444},{"i":92,"v":1.3436},{"i":95,"v":1.3429},{"i":99,"v":1.3429},{"i":102,"v":1.3429},{"i":104,"v":1.3441},{"i":107,"v":1.3460},{"i":110,"v":1.3475},{"i":112,"v":1.3483},{"i":116,"v":1.3499},{"i":119,"v":1.3529},{"i":122,"v":1.3558},{"i":125,"v":1.3580},{"i":127,"v":1.3595},{"i":130,"v":1.3617},{"i":133,"v":1.3640},{"i":135,"v":1.3653},{"i":137,"v":1.3660},{"i":139,"v":1.3665},{"i":142,"v":1.3674},{"i":145,"v":1.3681},{"i":147,"v":1.3692},{"i":150,"v":1.3701},{"i":152,"v":1.3703},{"i":154,"v":1.3707},{"i":157,"v":1.3713},{"i":159,"v":1.3718},{"i":160,"v":1.3723},{"i":162,"v":1.3731},{"i":163,"v":1.3740},{"i":166,"v":1.3755},{"i":168,"v":1.3764},{"i":170,"v":1.3776},{"i":172,"v":1.3784},{"i":174,"v":1.3795},{"i":177,"v":1.3809},{"i":178,"v":1.3814},{"i":180,"v":1.3817},{"i":182,"v":1.3828}],
"m5": [{"i":40,"v":1.4027},{"i":42,"v":1.4017},{"i":46,"v":1.4000},{"i":50,"v":1.3984},{"i":55,"v":1.3962},{"i":60,"v":1.3942},{"i":65,"v":1.3921},{"i":70,"v":1.3902},{"i":75,"v":1.3882},{"i":80,"v":1.3864},{"i":85,"v":1.3846},{"i":90,"v":1.3828},{"i":95,"v":1.3808},{"i":100,"v":1.3788},{"i":102,"v":1.3779},{"i":105,"v":1.3772},{"i":110,"v":1.3766},{"i":115,"v":1.3760},{"i":117,"v":1.3760},{"i":123,"v":1.3761},{"i":131,"v":1.3764},{"i":136,"v":1.3766},{"i":144,"v":1.3764},{"i":150,"v":1.3765},{"i":154,"v":1.3766},{"i":159,"v":1.3766},{"i":166,"v":1.3771},{"i":172,"v":1.3779},{"i":178,"v":1.3786},{"i":182,"v":1.3790}],
"m6": [{"i":19,"v":1.4020},{"i":20,"v":1.4015},{"i":22,"v":1.4006},{"i":25,"v":1.3994},{"i":29,"v":1.3979},{"i":33,"v":1.3955},{"i":37,"v":1.3925},{"i":41,"v":1.3903},{"i":43,"v":1.3892},{"i":46,"v":1.3874},{"i":48,"v":1.3865},{"i":50,"v":1.3856},{"i":52,"v":1.3848},{"i":56,"v":1.3830},{"i":60,"v":1.3812},{"i":65,"v":1.3789},{"i":70,"v":1.3766},{"i":75,"v":1.3743},{"i":80,"v":1.3720},{"i":82,"v":1.3711},{"i":84,"v":1.3705},{"i":88,"v":1.3680},{"i":92,"v":1.3659},{"i":97,"v":1.3642},{"i":101,"v":1.3630},{"i":103,"v":1.3625},{"i":106,"v":1.3622},{"i":110,"v":1.3624},{"i":116,"v":1.3625},{"i":119,"v":1.3632},{"i":123,"v":1.3639},{"i":127,"v":1.3644},{"i":131,"v":1.3654},{"i":135,"v":1.3667},{"i":139,"v":1.3672},{"i":144,"v":1.3676},{"i":148,"v":1.3682},{"i":154,"v":1.3686},{"i":158,"v":1.3692},{"i":162,"v":1.3701},{"i":166,"v":1.3709},{"i":170,"v":1.3722},{"i":174,"v":1.3735},{"i":178,"v":1.3744},{"i":182,"v":1.3752}],
"tl": [{"i":80,"v":1.3139},{"i":200.25,"v":1.3966}],
"yl": [{"p":1.4008},{"p":1.3972},{"p":1.3937},{"p":1.3902},{"p":1.3867},{"p":1.3831},{"p":1.3796},{"p":1.3761},{"p":1.3725},{"p":1.3690},{"p":1.3655},{"p":1.3620},{"p":1.3584},{"p":1.3549},{"p":1.3514},{"p":1.3479},{"p":1.3443},{"p":1.3408},{"p":1.3373},{"p":1.3337},{"p":1.3302},{"p":1.3267},{"p":1.3231},{"p":1.3196},{"p":1.3161},{"p":1.3126}],
"lv": [
{"p":1.4018,"k":"red","w":"thin"},{"p":1.3929,"k":"red","w":"thick"},{"p":1.3892,"k":"red","w":"thin"},{"p":1.3869,"k":"red","w":"dash"},{"p":1.3814,"k":"red","w":"thin"},{"p":1.3809,"k":"red","w":"thick"},{"p":1.3759,"k":"red","w":"thin"},{"p":1.3705,"k":"red","w":"dash"},{"p":1.3689,"k":"purple","w":"thick"},{"p":1.3619,"k":"blue","w":"thin"},{"p":1.3601,"k":"red","w":"thick"},{"p":1.3564,"k":"blue","w":"thin"},{"p":1.3541,"k":"red","w":"dash"},{"p":1.3525,"k":"blue","w":"thick"},{"p":1.3481,"k":"white","w":"thick"},{"p":1.3486,"k":"blue","w":"thin"},{"p":1.3431,"k":"blue","w":"thin"},{"p":1.3377,"k":"green","w":"dash"},{"p":1.3361,"k":"purple","w":"thick"},{"p":1.3291,"k":"green","w":"thin"},{"p":1.3273,"k":"green","w":"thick"},{"p":1.3236,"k":"green","w":"thin"},{"p":1.3213,"k":"green","w":"dash"},{"p":1.3158,"k":"green","w":"thin"},{"p":1.3153,"k":"green","w":"thick"},{"p":1.39929,"k":"cur","w":"thin"}
],
"st": [{"i":0,"k":70,"d":72},{"i":1,"k":71,"d":71},{"i":2,"k":72,"d":70},{"i":3,"k":76,"d":72},{"i":4,"k":80,"d":75},{"i":5,"k":83,"d":79},{"i":6,"k":85,"d":82},{"i":7,"k":85,"d":84},{"i":8,"k":84,"d":84},{"i":9,"k":78,"d":82},{"i":10,"k":72,"d":78},{"i":11,"k":66,"d":72},{"i":12,"k":60,"d":66},{"i":13,"k":50,"d":58},{"i":14,"k":40,"d":48},{"i":15,"k":32,"d":38},{"i":16,"k":26,"d":30},{"i":17,"k":22,"d":25},{"i":18,"k":20,"d":22},{"i":19,"k":20,"d":20},{"i":20,"k":22,"d":20},{"i":21,"k":30,"d":24},{"i":22,"k":38,"d":30},{"i":23,"k":45,"d":38},{"i":24,"k":52,"d":45},{"i":25,"k":58,"d":52},{"i":26,"k":62,"d":58},{"i":27,"k":66,"d":62},{"i":28,"k":70,"d":66},{"i":29,"k":72,"d":69},{"i":30,"k":62,"d":68},{"i":31,"k":50,"d":60},{"i":32,"k":38,"d":48},{"i":33,"k":26,"d":36},{"i":34,"k":15,"d":25},{"i":35,"k":8,"d":16},{"i":36,"k":7,"d":10},{"i":37,"k":9,"d":8},{"i":38,"k":12,"d":9},{"i":39,"k":15,"d":12},{"i":40,"k":18,"d":15},{"i":41,"k":20,"d":18},{"i":42,"k":20,"d":19},{"i":43,"k":18,"d":19},{"i":44,"k":16,"d":18},{"i":45,"k":17,"d":17},{"i":46,"k":22,"d":18},{"i":47,"k":30,"d":23},{"i":48,"k":42,"d":32},{"i":49,"k":55,"d":44},{"i":50,"k":66,"d":56},{"i":51,"k":74,"d":66},{"i":52,"k":82,"d":75},{"i":53,"k":86,"d":82},{"i":54,"k":85,"d":84},{"i":55,"k":84,"d":85},{"i":56,"k":82,"d":84},{"i":57,"k":84,"d":83},{"i":58,"k":86,"d":84},{"i":59,"k":84,"d":85},{"i":60,"k":80,"d":83},{"i":61,"k":80,"d":81},{"i":62,"k":83,"d":81},{"i":63,"k":86,"d":83},{"i":64,"k":85,"d":85},{"i":65,"k":82,"d":84},{"i":66,"k":78,"d":82},{"i":67,"k":72,"d":78},{"i":68,"k":55,"d":68},{"i":69,"k":35,"d":52},{"i":70,"k":18,"d":35},{"i":71,"k":8,"d":20},{"i":72,"k":3,"d":10},{"i":73,"k":1,"d":4},{"i":74,"k":1,"d":2},{"i":75,"k":1,"d":1},{"i":76,"k":1,"d":1},{"i":77,"k":0,"d":1},{"i":78,"k":0,"d":0},{"i":79,"k":1,"d":0},{"i":80,"k":3,"d":1},{"i":81,"k":6,"d":3},{"i":82,"k":10,"d":6},{"i":83,"k":15,"d":10},{"i":84,"k":22,"d":16},{"i":85,"k":30,"d":22},{"i":86,"k":38,"d":30},{"i":87,"k":45,"d":38},{"i":88,"k":52,"d":45},{"i":89,"k":58,"d":52},{"i":90,"k":64,"d":58},{"i":91,"k":70,"d":64},{"i":92,"k":76,"d":70},{"i":93,"k":80,"d":75},{"i":94,"k":83,"d":79},{"i":95,"k":85,"d":82},{"i":96,"k":86,"d":85},{"i":97,"k":86,"d":86},{"i":98,"k":85,"d":86},{"i":99,"k":85,"d":85},{"i":100,"k":86,"d":85},{"i":101,"k":84,"d":85},{"i":102,"k":82,"d":84},{"i":103,"k":82,"d":83},{"i":104,"k":83,"d":82},{"i":105,"k":85,"d":83},{"i":106,"k":86,"d":85},{"i":107,"k":86,"d":86},{"i":108,"k":85,"d":86},{"i":109,"k":84,"d":85},{"i":110,"k":82,"d":84},{"i":111,"k":80,"d":82},{"i":112,"k":80,"d":81},{"i":113,"k":82,"d":81},{"i":114,"k":83,"d":82},{"i":115,"k":82,"d":82},{"i":116,"k":82,"d":82},{"i":117,"k":85,"d":83},{"i":118,"k":86,"d":85},{"i":119,"k":86,"d":86},{"i":120,"k":85,"d":86},{"i":121,"k":84,"d":85},{"i":122,"k":84,"d":84},{"i":123,"k":80,"d":83},{"i":124,"k":76,"d":80},{"i":125,"k":76,"d":77},{"i":126,"k":77,"d":76},{"i":127,"k":77,"d":77},{"i":128,"k":78,"d":77},{"i":129,"k":80,"d":78},{"i":130,"k":84,"d":81},{"i":131,"k":86,"d":84},{"i":132,"k":87,"d":86},{"i":133,"k":86,"d":86},{"i":134,"k":84,"d":86},{"i":135,"k":80,"d":84},{"i":136,"k":74,"d":80},{"i":137,"k":68,"d":74},{"i":138,"k":60,"d":67},{"i":139,"k":52,"d":60},{"i":140,"k":40,"d":52},{"i":141,"k":28,"d":40},{"i":142,"k":15,"d":28},{"i":143,"k":13,"d":19},{"i":144,"k":18,"d":15},{"i":145,"k":28,"d":20},{"i":146,"k":40,"d":29},{"i":147,"k":52,"d":40},{"i":148,"k":58,"d":50},{"i":149,"k":60,"d":56},{"i":150,"k":58,"d":58},{"i":151,"k":57,"d":58},{"i":152,"k":55,"d":57},{"i":153,"k":57,"d":56},{"i":154,"k":58,"d":57},{"i":155,"k":60,"d":58},{"i":156,"k":62,"d":60},{"i":157,"k":64,"d":62},{"i":158,"k":66,"d":64},{"i":159,"k":68,"d":66},{"i":160,"k":74,"d":69},{"i":161,"k":78,"d":73},{"i":162,"k":82,"d":78},{"i":163,"k":84,"d":81},{"i":164,"k":86,"d":84},{"i":165,"k":86,"d":86},{"i":166,"k":85,"d":86},{"i":167,"k":86,"d":86},{"i":168,"k":87,"d":86},{"i":169,"k":86,"d":86},{"i":170,"k":84,"d":86},{"i":171,"k":83,"d":84},{"i":172,"k":80,"d":82},{"i":173,"k":80,"d":81},{"i":174,"k":78,"d":80},{"i":175,"k":76,"d":78},{"i":176,"k":74,"d":76},{"i":177,"k":73,"d":74},{"i":178,"k":70,"d":72},{"i":179,"k":66,"d":70},{"i":180,"k":64,"d":67},{"i":181,"k":67,"d":66},{"i":182,"k":72.08,"d":67.04}],
"slv": [{"lv":75},{"lv":25}],
"sax": [{"v":100,"t":"100"},{"v":0,"t":"0"}],
"xl": [{"i":0,"t":"14 Sep 2011"},{"i":8,"t":"16 Sep 04:00"},{"i":16,"t":"19 Sep 12:00"},{"i":24,"t":"20 Sep 20:00"},{"i":32,"t":"22 Sep 04:00"},{"i":40,"t":"23 Sep 12:00"},{"i":48,"t":"26 Sep 20:00"},{"i":56,"t":"28 Sep 04:00"},{"i":64,"t":"29 Sep 12:00"},{"i":72,"t":"30 Sep 20:00"},{"i":80,"t":"4 Oct 04:00"},{"i":88,"t":"5 Oct 12:00"},{"i":96,"t":"6 Oct 20:00"},{"i":104,"t":"10 Oct 04:00"},{"i":112,"t":"11 Oct 12:00"},{"i":120,"t":"12 Oct 20:00"},{"i":128,"t":"14 Oct 04:00"},{"i":136,"t":"17 Oct 12:00"},{"i":144,"t":"18 Oct 20:00"},{"i":152,"t":"20 Oct 04:00"},{"i":160,"t":"21 Oct 12:00"},{"i":168,"t":"24 Oct 20:00"},{"i":176,"t":"26 Oct 04:00"}],
"txt": [{"t":"Stoch(13,3,5) 72.0783 67.0355","x":0.54,"y":83},{"t":"FXCM MT4, © 2001-2011 MetaQuotes Software Corp.","x":0.49,"y":10}]
},
"vconcat": [
{
"width": 1634, "height": 811,
"layer": [
{"data": {"name": "c"}, "mark": {"type": "rule", "strokeWidth": 1},
 "encoding": {
  "x": {"field": "i", "type": "quantitative", "scale": {"domain": [-0.125, 204.125], "nice": false, "zero": false}, "axis": null},
  "y": {"field": "l", "type": "quantitative", "scale": {"domain": [1.31246, 1.4019], "nice": false, "zero": false}, "axis": null},
  "y2": {"field": "h"},
  "color": {"condition": [{"test": "datum.c > datum.o", "value": "#0000ff"}, {"test": "datum.c == datum.o", "value": "#00ff00"}], "value": "#ff0000"}}},
{"data": {"name": "c"}, "mark": {"type": "bar", "width": 4, "strokeWidth": 1},
 "encoding": {
  "x": {"field": "i", "type": "quantitative", "axis": null},
  "y": {"field": "o", "type": "quantitative", "axis": null},
  "y2": {"field": "c"},
  "color": {"condition": [{"test": "datum.c > datum.o", "value": "#0000ff"}, {"test": "datum.c == datum.o", "value": "#00ff00"}], "value": "#ff0000"},
  "stroke": {"condition": [{"test": "datum.c > datum.o", "value": "#0000ff"}, {"test": "datum.c == datum.o", "value": "#00ff00"}], "value": "#ff0000"}}},
{"data": {"name": "bbu"}, "mark": {"type": "line", "color": "#ffffff", "strokeWidth": 2, "clip": true},
 "encoding": {"x": {"field": "i", "type": "quantitative", "axis": null}, "y": {"field": "v", "type": "quantitative", "axis": null}}},
{"data": {"name": "bbl"}, "mark": {"type": "line", "color": "#ffffff", "strokeWidth": 2, "clip": true},
 "encoding": {"x": {"field": "i", "type": "quantitative", "axis": null}, "y": {"field": "v", "type": "quantitative", "axis": null}}},
{"data": {"name": "m6"}, "mark": {"type": "line", "color": "#a52a2a", "strokeWidth": 2, "clip": true},
 "encoding": {"x": {"field": "i", "type": "quantitative", "axis": null}, "y": {"field": "v", "type": "quantitative", "axis": null}}},
{"data": {"name": "m5"}, "mark": {"type": "line", "color": "#22f000", "strokeWidth": 2, "clip": true},
 "encoding": {"x": {"field": "i", "type": "quantitative", "axis": null}, "y": {"field": "v", "type": "quantitative", "axis": null}}},
{"data": {"name": "m4"}, "mark": {"type": "line", "color": "#0000ff", "strokeWidth": 2, "clip": true},
 "encoding": {"x": {"field": "i", "type": "quantitative", "axis": null}, "y": {"field": "v", "type": "quantitative", "axis": null}}},
{"data": {"name": "m3"}, "mark": {"type": "line", "color": "#ff0000", "strokeWidth": 2, "clip": true},
 "encoding": {"x": {"field": "i", "type": "quantitative", "axis": null}, "y": {"field": "v", "type": "quantitative", "axis": null}}},
{"data": {"name": "m2"}, "mark": {"type": "line", "color": "#ffff00", "strokeWidth": 2, "clip": true},
 "encoding": {"x": {"field": "i", "type": "quantitative", "axis": null}, "y": {"field": "v", "type": "quantitative", "axis": null}}},
{"data": {"name": "m1"}, "mark": {"type": "line", "color": "#22e68a", "strokeWidth": 2, "clip": true},
 "encoding": {"x": {"field": "i", "type": "quantitative", "axis": null}, "y": {"field": "v", "type": "quantitative", "axis": null}}},
{"data": {"name": "lv"}, "mark": {"type": "rule"},
 "encoding": {
  "y": {"field": "p", "type": "quantitative", "axis": null},
  "color": {"condition": [{"test": "datum.k == 'red'", "value": "#ff0000"}, {"test": "datum.k == 'blue'", "value": "#0000ff"}, {"test": "datum.k == 'green'", "value": "#008000"}, {"test": "datum.k == 'purple'", "value": "#8a2be2"}, {"test": "datum.k == 'cur'", "value": "#8c8c8c"}], "value": "#ffffff"},
  "strokeWidth": {"condition": {"test": "datum.w == 'thick'", "value": 3.5}, "value": 1},
  "strokeDash": {"condition": {"test": "datum.w == 'dash'", "value": [3, 3]}, "value": [1, 0]}}},
{"data": {"name": "tl"}, "mark": {"type": "line", "color": "#0000ff", "strokeWidth": 3, "clip": true},
 "encoding": {"x": {"field": "i", "type": "quantitative", "axis": null}, "y": {"field": "v", "type": "quantitative", "axis": null}}},
{"data": {"name": "yl"}, "mark": {"type": "tick", "orient": "horizontal", "thickness": 1, "size": 4, "opacity": 1, "color": "#ffffff"},
 "encoding": {"x": {"datum": 204.375, "type": "quantitative", "axis": null}, "y": {"field": "p", "type": "quantitative", "axis": null}}},
{"data": {"name": "yl"}, "mark": {"type": "text", "align": "left", "baseline": "middle", "font": "Liberation Sans", "fontSize": 9.3, "color": "#ffffff"},
 "encoding": {"x": {"datum": 204.96, "type": "quantitative", "axis": null}, "y": {"field": "p", "type": "quantitative", "axis": null}, "text": {"field": "p", "type": "quantitative", "format": ".5f"}}},
{"data": {"name": "lv"}, "transform": [{"filter": "datum.p < 1.401"}],
 "mark": {"type": "tick", "orient": "horizontal", "thickness": 12, "size": 44, "opacity": 1},
 "encoding": {
  "x": {"datum": 207.125, "type": "quantitative", "axis": null},
  "y": {"field": "p", "type": "quantitative", "axis": null},
  "color": {"condition": [{"test": "datum.k == 'red'", "value": "#ff0000"}, {"test": "datum.k == 'blue'", "value": "#0000ff"}, {"test": "datum.k == 'green'", "value": "#008000"}, {"test": "datum.k == 'purple'", "value": "#8a2be2"}], "value": "#ffffff"}}},
{"data": {"name": "lv"}, "transform": [{"filter": "datum.p < 1.401"}],
 "mark": {"type": "text", "align": "left", "baseline": "middle", "font": "Liberation Sans", "fontSize": 9.3},
 "encoding": {
  "x": {"datum": 204.96, "type": "quantitative", "axis": null},
  "y": {"field": "p", "type": "quantitative", "axis": null},
  "text": {"field": "p", "type": "quantitative", "format": ".5f"},
  "color": {"condition": {"test": "datum.k == 'red' || datum.k == 'white' || datum.k == 'cur'", "value": "#000000"}, "value": "#ffffff"}}}
]
},
{
"width": 1634, "height": 61,
"layer": [
{"data": {"name": "slv"}, "mark": {"type": "rule", "color": "#ff0000", "strokeWidth": 2},
 "encoding": {"y": {"field": "lv", "type": "quantitative", "scale": {"domain": [0, 100], "nice": false, "zero": false}, "axis": null}}},
{"data": {"name": "st"}, "mark": {"type": "line", "color": "#00ee76", "strokeWidth": 2},
 "encoding": {"x": {"field": "i", "type": "quantitative", "scale": {"domain": [-0.125, 204.125], "nice": false, "zero": false}, "axis": null}, "y": {"field": "k", "type": "quantitative", "axis": null}}},
{"data": {"name": "st"}, "mark": {"type": "line", "color": "#ffff00", "strokeWidth": 2},
 "encoding": {"x": {"field": "i", "type": "quantitative", "axis": null}, "y": {"field": "d", "type": "quantitative", "axis": null}}},
{"data": {"name": "txt"}, "mark": {"type": "text", "align": "left", "baseline": "middle", "font": "Liberation Sans", "fontSize": 9.3, "color": "#ffffff"},
 "encoding": {"x": {"field": "x", "type": "quantitative", "axis": null}, "y": {"field": "y", "type": "quantitative", "axis": null}, "text": {"field": "t", "type": "nominal"}}},
{"data": {"name": "xl"}, "mark": {"type": "rule", "color": "#ffffff", "strokeWidth": 1},
 "encoding": {"x": {"field": "i", "type": "quantitative", "axis": null}, "y": {"datum": 0, "type": "quantitative", "axis": null}, "y2": {"datum": -6.5}}},
{"data": {"name": "xl"}, "mark": {"type": "text", "align": "left", "baseline": "middle", "dx": 1, "font": "Liberation Sans", "fontSize": 9.3, "color": "#ffffff"},
 "encoding": {"x": {"field": "i", "type": "quantitative", "axis": null}, "y": {"datum": -15, "type": "quantitative", "axis": null}, "text": {"field": "t", "type": "nominal"}}},
{"data": {"name": "sax"}, "transform": [{"filter": "datum.v == 100"}], "mark": {"type": "text", "align": "left", "baseline": "top", "dy": 1, "font": "Liberation Sans", "fontSize": 9.3, "color": "#ffffff"},
 "encoding": {"x": {"datum": 204.625, "type": "quantitative", "axis": null}, "y": {"field": "v", "type": "quantitative", "axis": null}, "text": {"field": "t", "type": "nominal"}}},
{"data": {"name": "sax"}, "transform": [{"filter": "datum.v == 0"}], "mark": {"type": "text", "align": "left", "baseline": "bottom", "dy": -1, "font": "Liberation Sans", "fontSize": 9.3, "color": "#ffffff"},
 "encoding": {"x": {"datum": 204.625, "type": "quantitative", "axis": null}, "y": {"field": "v", "type": "quantitative", "axis": null}, "text": {"field": "t", "type": "nominal"}}},
{"data": {"name": "slv"}, "mark": {"type": "tick", "orient": "horizontal", "thickness": 10, "size": 13, "opacity": 1, "color": "#ff0000"},
 "encoding": {"x": {"datum": 205.125, "type": "quantitative", "axis": null}, "y": {"field": "lv", "type": "quantitative", "axis": null}}},
{"data": {"name": "slv"}, "mark": {"type": "text", "align": "center", "baseline": "middle", "font": "Liberation Sans", "fontSize": 9.3, "color": "#000000"},
 "encoding": {"x": {"datum": 205.125, "type": "quantitative", "axis": null}, "y": {"field": "lv", "type": "quantitative", "axis": null}, "text": {"field": "lv", "type": "quantitative"}}}
]
}
]
}
